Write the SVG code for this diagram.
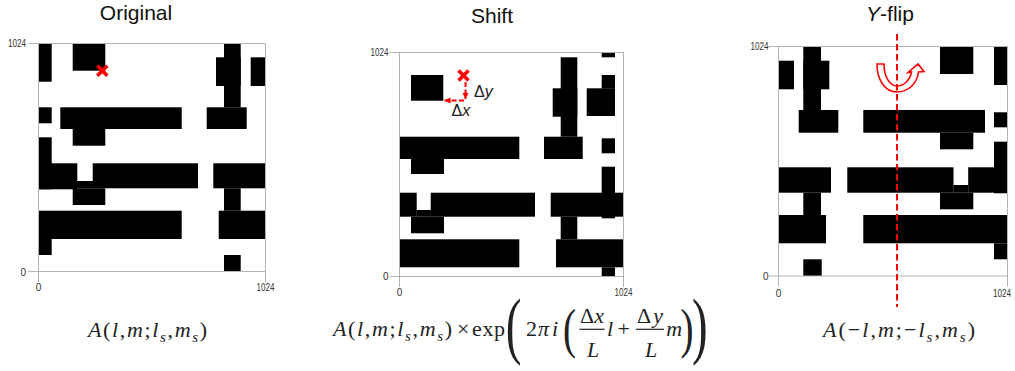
<svg xmlns="http://www.w3.org/2000/svg" width="1015" height="371" viewBox="0 0 1015 371">
<style>
.bg{fill:#fff}
.ax{stroke:#b3b3b3;stroke-width:1;fill:none}
.blk rect{fill:#000}
.tk{font-family:"Liberation Sans",Arial,sans-serif;font-size:10px;fill:#333}
.ttl{font-family:"Liberation Sans",Arial,sans-serif;font-size:21px;fill:#111;text-anchor:middle}
.eq{font-family:"Liberation Serif","Times New Roman",serif;font-size:22px;fill:#222}
.i{font-style:italic}
.sub{font-size:15px}
.lbl{font-family:"Liberation Sans",Arial,sans-serif;font-size:16px;fill:#222}
.xm{stroke:#f00;stroke-width:3.6;fill:none}
.dsh{stroke:#f00;stroke-width:2;fill:none;stroke-dasharray:5 2.5}
.bar{stroke:#222;stroke-width:1.2}
</style>
<defs>
<marker id="ah" markerUnits="userSpaceOnUse" markerWidth="7" markerHeight="7" refX="6" refY="3.5" orient="auto">
<path d="M0,0.5 L6,3.5 L0,6.5 z" fill="#f00"/>
</marker>
</defs>
<rect class="bg" x="0" y="0" width="1015" height="371"/>

<g id="panel-original">
<text class="ttl" x="136" y="20">Original</text>
<g class="blk">
<rect x="38.3" y="43.3" width="13.4" height="38.4"/>
<rect x="72.7" y="43.3" width="32.6" height="27.4"/>
<rect x="224" y="43.3" width="16.7" height="64"/>
<rect x="216" y="57.3" width="24.7" height="28.7"/>
<rect x="250.7" y="57.3" width="15" height="28.7"/>
<rect x="38.3" y="107.3" width="13.4" height="16"/>
<rect x="60.3" y="107.3" width="121.4" height="21.7"/>
<rect x="72.7" y="129" width="32.6" height="16.7"/>
<rect x="206.7" y="107.3" width="40" height="21.7"/>
<rect x="38.3" y="137.3" width="13.4" height="52"/>
<rect x="38.3" y="163.3" width="39" height="26"/>
<rect x="92.7" y="163.3" width="105.3" height="25"/>
<rect x="77" y="181" width="16" height="7.3"/>
<rect x="72.7" y="188.3" width="32.6" height="16.7"/>
<rect x="213.3" y="163.3" width="52.4" height="25"/>
<rect x="224" y="188.3" width="16.7" height="22.4"/>
<rect x="38.3" y="210.7" width="143.4" height="28.3"/>
<rect x="38.3" y="239" width="13.4" height="16"/>
<rect x="218.7" y="210.7" width="47" height="28.3"/>
<rect x="224" y="255" width="16.7" height="16.7"/>
</g>
<rect class="ax" x="38.5" y="43.5" width="227" height="228"/>
<path class="ax" d="M28.5 43.5H38.5M28.5 271.5H38.5M38.5 271.5V282M265.5 271.5V282"/>
<text class="tk" x="26" y="47" text-anchor="end" textLength="18" lengthAdjust="spacingAndGlyphs">1024</text>
<text class="tk" x="26" y="276" text-anchor="end">0</text>
<text class="tk" x="38.5" y="290.5" text-anchor="middle">0</text>
<text class="tk" x="256.5" y="290.5" textLength="18" lengthAdjust="spacingAndGlyphs">1024</text>
<path class="xm" d="M97.3 65.7L107.3 75.7M107.3 65.7L97.3 75.7"/>
<text class="eq" x="88" y="337" textLength="119"><tspan class="i">A</tspan>(<tspan class="i">l</tspan>,<tspan class="i">m</tspan>;<tspan class="i">l</tspan><tspan class="i sub" dy="5">s</tspan><tspan dy="-5">,</tspan><tspan class="i">m</tspan><tspan class="i sub" dy="5">s</tspan><tspan dy="-5">)</tspan></text>
</g>

<g id="panel-shift">
<text class="ttl" x="492" y="22.7">Shift</text>
<g class="blk">
<rect x="411" y="75" width="32.3" height="25.7"/>
<rect x="560.7" y="57.3" width="16.6" height="79.4"/>
<rect x="552.7" y="88.3" width="24.6" height="28.4"/>
<rect x="601.7" y="52.3" width="13.3" height="5"/>
<rect x="586.7" y="88.3" width="28.3" height="27.7"/>
<rect x="601.7" y="75" width="13.3" height="13.5"/>
<rect x="399.3" y="136.7" width="120" height="22.3"/>
<rect x="411" y="159" width="33" height="15"/>
<rect x="544" y="136.7" width="38.7" height="22.3"/>
<rect x="601.7" y="138.3" width="13.3" height="15"/>
<rect x="601.7" y="166.7" width="13.3" height="51.6"/>
<rect x="399.3" y="192.7" width="17.4" height="24"/>
<rect x="430.7" y="192.7" width="104.3" height="24"/>
<rect x="416.5" y="210" width="14.4" height="6.7"/>
<rect x="411" y="216.7" width="33" height="16.6"/>
<rect x="550.7" y="192.7" width="72.6" height="24"/>
<rect x="560.7" y="216.7" width="16.6" height="22.6"/>
<rect x="399.3" y="239.3" width="120" height="28"/>
<rect x="556" y="239.3" width="67.3" height="28"/>
<rect x="601.7" y="267.3" width="13.3" height="9.4"/>
</g>
<rect class="ax" x="399.5" y="52.5" width="224" height="224"/>
<path class="ax" d="M389.5 52.5H399.5M389.5 276.5H399.5M399.5 276.5V287M623.5 276.5V287"/>
<text class="tk" x="388.5" y="56" text-anchor="end" textLength="18" lengthAdjust="spacingAndGlyphs">1024</text>
<text class="tk" x="388.5" y="280" text-anchor="end">0</text>
<text class="tk" x="399.5" y="296" text-anchor="middle">0</text>
<text class="tk" x="614.5" y="296" textLength="18" lengthAdjust="spacingAndGlyphs">1024</text>
<path class="xm" d="M458.5 70.5L468.5 80.5M468.5 70.5L458.5 80.5"/>
<text class="lbl" x="474" y="97"><tspan>Δ</tspan><tspan class="i">y</tspan></text>
<text class="lbl" x="451.5" y="115.5"><tspan>Δ</tspan><tspan class="i">x</tspan></text>
<text class="eq" x="333" y="336" textLength="119"><tspan class="i">A</tspan>(<tspan class="i">l</tspan>,<tspan class="i">m</tspan>;<tspan class="i">l</tspan><tspan class="i sub" dy="5">s</tspan><tspan dy="-5">,</tspan><tspan class="i">m</tspan><tspan class="i sub" dy="5">s</tspan><tspan dy="-5">)</tspan></text>
<text class="eq" x="457" y="336">×</text>
<text class="eq" x="472" y="336" textLength="33">exp</text>
<text class="eq" transform="translate(505.7 349.9) scale(0.635 1)" x="0" y="0" style="font-size:74px">(</text>
<text class="eq" x="526" y="336">2<tspan class="i" x="538">π</tspan><tspan class="i" x="552">i</tspan></text>
<text class="eq" transform="translate(563.1 347.3) scale(0.71 1)" x="0" y="0" style="font-size:55px">(</text>
<text class="eq" x="580" y="323" textLength="24">Δ<tspan class="i">x</tspan></text>
<line class="bar" x1="579.5" y1="329.3" x2="604.5" y2="329.3"/>
<text class="eq i" x="587" y="356.5">L</text>
<text class="eq i" x="607" y="336">l</text>
<text class="eq" x="617.5" y="336">+</text>
<text class="eq" x="637" y="323" textLength="26">Δ<tspan class="i">y</tspan></text>
<line class="bar" x1="636" y1="329.3" x2="664" y2="329.3"/>
<text class="eq i" x="645" y="356.5">L</text>
<text class="eq i" x="666.3" y="336">m</text>
<text class="eq" transform="translate(680.6 347.3) scale(0.71 1)" x="0" y="0" style="font-size:55px">)</text>
<text class="eq" transform="translate(692 349.9) scale(0.635 1)" x="0" y="0" style="font-size:74px">)</text>
</g>

<g id="connectors">
<line class="dsh" x1="465.5" y1="82" x2="465.5" y2="99" marker-end="url(#ah)"/>
<line class="dsh" x1="464" y1="100.5" x2="444.5" y2="100.5" marker-end="url(#ah)"/>
</g>

<g id="panel-yflip">
<text class="ttl" x="890" y="21"><tspan class="i">Y</tspan>-flip</text>
<g class="blk">
<rect x="778.3" y="60.7" width="15.7" height="28.6"/>
<rect x="803.3" y="46.7" width="17.7" height="63.3"/>
<rect x="803.3" y="60.7" width="26" height="28.6"/>
<rect x="798.7" y="110" width="39.6" height="22.7"/>
<rect x="863.3" y="110" width="121.7" height="22.7"/>
<rect x="940" y="132.7" width="33.3" height="16.6"/>
<rect x="940" y="46.7" width="33.3" height="27.3"/>
<rect x="994" y="46.7" width="13.3" height="38.3"/>
<rect x="994" y="112.3" width="13.3" height="15"/>
<rect x="994" y="141.7" width="13.3" height="51.6"/>
<rect x="778.3" y="167.3" width="52.7" height="25.4"/>
<rect x="847.3" y="167.3" width="106.2" height="25.4"/>
<rect x="968.2" y="167.3" width="39.1" height="25.4"/>
<rect x="953.3" y="185" width="15" height="7.7"/>
<rect x="803.3" y="192.7" width="17.7" height="22.3"/>
<rect x="940" y="192.7" width="33.3" height="16.6"/>
<rect x="778.3" y="215" width="47.7" height="28.3"/>
<rect x="863.3" y="215" width="144" height="28.3"/>
<rect x="994" y="243.3" width="13.3" height="16"/>
<rect x="803.3" y="259.3" width="18.4" height="16.7"/>
</g>
<rect class="ax" x="778.5" y="46.5" width="229" height="229.5"/>
<path class="ax" d="M768.5 46.5H778.5M768.5 276H778.5M778.5 276V286.5M1007.5 276V286.5"/>
<text class="tk" x="768.5" y="50" text-anchor="end" textLength="18" lengthAdjust="spacingAndGlyphs">1024</text>
<text class="tk" x="768.5" y="279.5" text-anchor="end">0</text>
<text class="tk" x="778.5" y="297" text-anchor="middle">0</text>
<text class="tk" x="993" y="297" textLength="18" lengthAdjust="spacingAndGlyphs">1024</text>
<path d="M877 64 L884 64 C884 77 890 86 897 86 C904 86 910 80 911.5 72 L908 72.5 L918 64 L924 71.5 L918.5 72 C917 84 908 92 897 92 C885 92 877 80 877 64 Z" fill="#fff" stroke="#f00" stroke-width="1.6" stroke-linejoin="miter"/>
<line x1="897" y1="34" x2="897" y2="307" stroke="#f00" stroke-width="2" stroke-dasharray="6.5 3.5"/>
<text class="eq" x="823" y="337" textLength="152"><tspan class="i">A</tspan>(−<tspan class="i">l</tspan>,<tspan class="i">m</tspan>;−<tspan class="i">l</tspan><tspan class="i sub" dy="5">s</tspan><tspan dy="-5">,</tspan><tspan class="i">m</tspan><tspan class="i sub" dy="5">s</tspan><tspan dy="-5">)</tspan></text>
</g>
</svg>
